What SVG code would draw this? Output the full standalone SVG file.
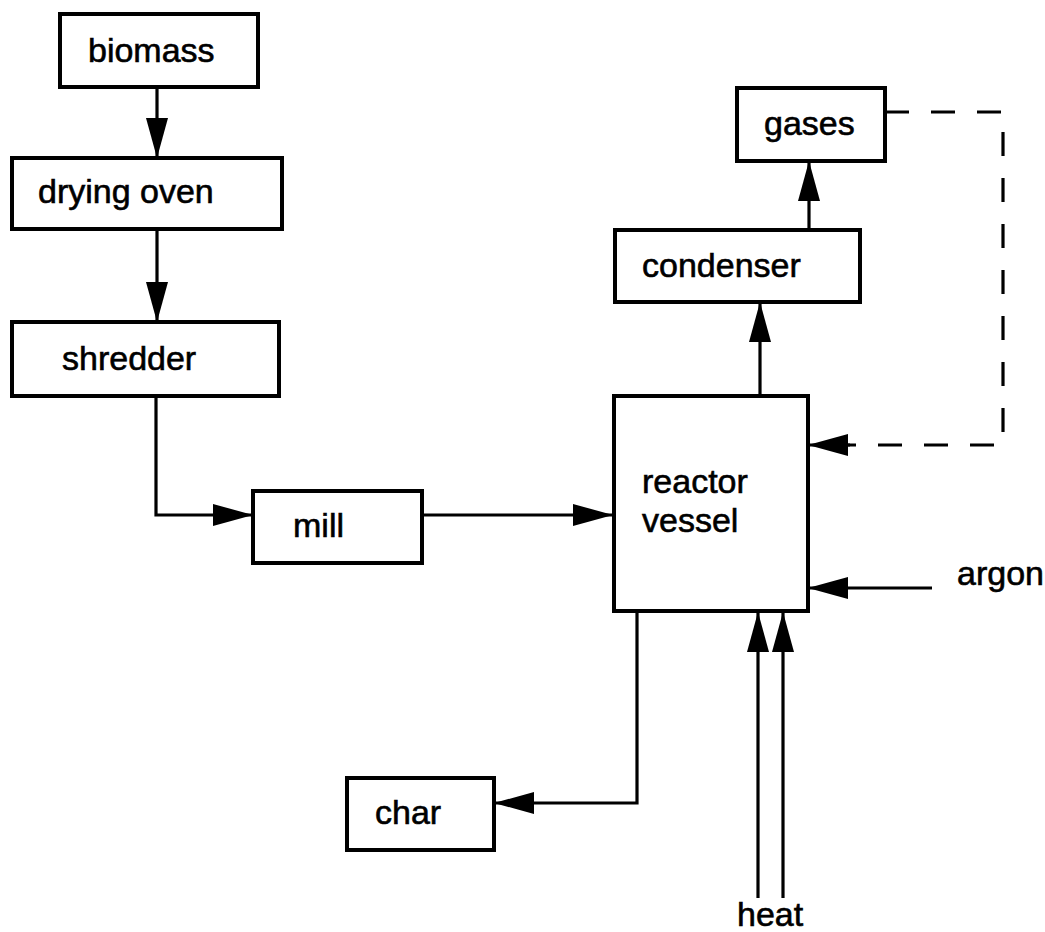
<svg xmlns="http://www.w3.org/2000/svg" width="1045" height="932" viewBox="0 0 1045 932">
<style>
.box{fill:#fff;stroke:#000;stroke-width:4}
.lbl{font-family:"Liberation Sans",Arial,sans-serif;font-size:34px;fill:#000;stroke:#000;stroke-width:0.6}
.con{fill:none;stroke:#000;stroke-width:3.2}
.dash{stroke-dasharray:24 22}
</style>
<defs>
<marker id="ah" markerWidth="40" markerHeight="22" refX="40" refY="11" orient="auto" markerUnits="userSpaceOnUse" viewBox="0 0 40 22">
<path d="M0,0 L40,11 L0,22 Z" fill="#000"/>
</marker>
</defs>
<rect width="1045" height="932" fill="#fff"/>
<g id="connectors">
<path class="con" d="M157,87 V158" marker-end="url(#ah)"/>
<path class="con" d="M157,229 V322" marker-end="url(#ah)"/>
<path class="con" d="M156,396 V515 H253" marker-end="url(#ah)"/>
<path class="con" d="M422,515 H613" marker-end="url(#ah)"/>
<path class="con" d="M760,396 V302" marker-end="url(#ah)"/>
<path class="con" d="M809,230 V161" marker-end="url(#ah)"/>
<path class="con dash" d="M885,112 H1003 V445 H848"/>
<path class="con" d="M850,445 H808" marker-end="url(#ah)"/>
<path class="con" d="M932,588 H808" marker-end="url(#ah)"/>
<path class="con" d="M637,612 V803 H494" marker-end="url(#ah)"/>
<path class="con" d="M758,898 V612" marker-end="url(#ah)"/>
<path class="con" d="M783,898 V612" marker-end="url(#ah)"/>
</g>
<g id="biomass"><rect class="box" x="60" y="14" width="198" height="73"/><text class="lbl" x="88" y="62">biomass</text></g>
<g id="drying-oven"><rect class="box" x="12" y="158" width="270" height="71"/><text class="lbl" x="38" y="203">drying oven</text></g>
<g id="shredder"><rect class="box" x="12" y="322" width="267" height="74"/><text class="lbl" x="62" y="370">shredder</text></g>
<g id="mill"><rect class="box" x="253" y="491" width="169" height="72"/><text class="lbl" x="293" y="537">mill</text></g>
<g id="reactor-vessel"><rect class="box" x="614" y="396" width="194" height="215"/><text class="lbl" x="642" y="493">reactor</text><text class="lbl" x="642" y="532">vessel</text></g>
<g id="condenser"><rect class="box" x="615" y="230" width="245" height="72"/><text class="lbl" x="642" y="277">condenser</text></g>
<g id="gases"><rect class="box" x="737" y="88" width="148" height="73"/><text class="lbl" x="764" y="135">gases</text></g>
<g id="char"><rect class="box" x="347" y="778" width="147" height="72"/><text class="lbl" x="375" y="824">char</text></g>
<g id="argon"><text class="lbl" x="957" y="585">argon</text></g>
<g id="heat"><text class="lbl" x="737" y="926">heat</text></g>
</svg>
